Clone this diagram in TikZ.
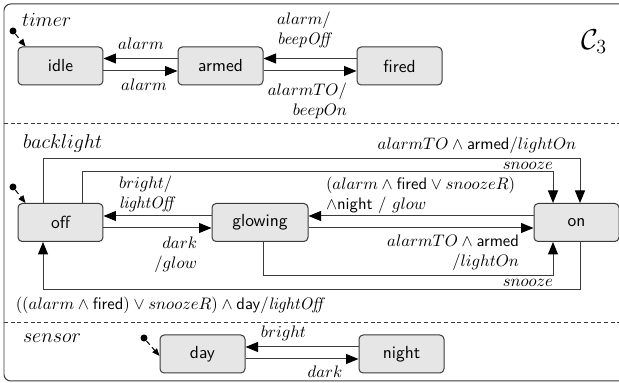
\documentclass[tikz,border=0pt]{standalone}
\usetikzlibrary{arrows.meta,calc}
\definecolor{edgecol}{HTML}{3A3A3A}
\definecolor{nodefill}{HTML}{E6E6E6}
\begin{document}
\begin{tikzpicture}[x=0.6pt,y=-0.6pt,
  stbox/.style={draw=edgecol, fill=nodefill, rounded corners=2.5pt, line width=0.6pt,
    minimum width=51pt, minimum height=22.8pt, font=\sffamily\fontsize{10.5}{12}\selectfont, inner sep=0pt},
  tr/.style={draw=edgecol, line width=0.6pt, -{Triangle[length=7.5pt,width=6pt,color=black]}},
  initarr/.style={draw=black, line width=0.6pt, densely dashed, -{Triangle[length=4.5pt,width=3.6pt]}},
  ln/.style={draw=edgecol, line width=0.6pt},
  sep/.style={draw=edgecol, line width=0.5pt, dash pattern=on 2.4pt off 1.6pt},
  lb/.style={inner sep=0pt, outer sep=0pt},
  reg/.style={inner sep=0pt, outer sep=0pt, font=\large},
  dot/.style={circle, fill=black, inner sep=0pt, minimum size=4.2pt}
]
\useasboundingbox (0,0) rectangle (619,383);
\draw[ln, rounded corners=4pt] (4,4) rectangle (640,381);
\draw[sep] (4,123) -- (619,123);
\draw[sep] (4,322) -- (619,322);

% region labels
\node[reg, anchor=west] (tTimer) at (22,20) {$timer$};
\node[reg, anchor=west] (tBack) at (23,144) {$backlight$};
\node[reg, anchor=west] (tSensor) at (23,338) {$sensor$};
\node[lb] (tC) at (594,42) {\LARGE $\mathcal{C}_3$};

% timer
\node[stbox] (idle) at (60.5,66) {idle};
\node[stbox] (armed) at (220.5,66) {armed};
\node[stbox] (fired) at (399.5,66) {fired};
\node[dot] (i1) at (13,31) {};
\draw[initarr] (i1) -- ($(idle.north west)+(8,0)$);
\draw[tr] ([yshift=4.5pt]armed.west) -- ([yshift=4.5pt]idle.east);
\draw[tr] ([yshift=-3pt]idle.east) -- ([yshift=-3pt]armed.west);
\draw[tr] ([yshift=4.5pt]fired.west) -- ([yshift=4.5pt]armed.east);
\draw[tr] ([yshift=-3pt]armed.east) -- ([yshift=-3pt]fired.west);
\node[lb] (l1) at (141,44) {$alarm$};
\node[lb] (l2) at (144,85) {$alarm$};
\node[lb, anchor=west, align=left] (l3) at (277,30) {$alarm/$\\$\mathit{beepOff}$};
\node[lb, anchor=east, align=right] (l4) at (347,101) {$alarmTO/$\\$beepOn$};

% backlight
\node[stbox] (off) at (60.5,222.5) {off};
\node[stbox, minimum width=57.6pt] (glowing) at (260,222.5) {glowing};
\node[stbox] (on) at (576.5,222.5) {on};
\node[dot] (i2) at (13,187) {};
\draw[initarr] (i2) -- ($(off.north west)+(8,0)$);
\draw[tr] ([yshift=3.9pt]glowing.west) -- ([yshift=3.9pt]off.east);
\draw[tr] ([yshift=-3.3pt]off.east) -- ([yshift=-3.3pt]glowing.west);
\draw[tr] ([yshift=3.9pt]on.west) -- ([yshift=3.9pt]glowing.east);
\draw[tr] ([yshift=-3.3pt]glowing.east) -- ([yshift=-3.3pt]on.west);
\draw[tr] (off.north -| 43,0) |- (580,159) -- (on.north -| 580,0);
\draw[tr] (off.north -| 82,0) |- (553,172) -- (on.north -| 553,0);
\draw[tr] (glowing.south -| 263,0) |- (553,276) -- (on.south -| 553,0);
\draw[tr] (on.south -| 580,0) |- (43,290) -- (off.south -| 43,0);
\node[lb] (b1) at (477,145) {$alarmTO \wedge \textsf{armed}/lightOn$};
\node[lb, anchor=base east] (b2) at (553,170) {$snooze$};
\node[lb, anchor=base east] (b3) at (553,287) {$snooze$};
\node[lb] (b4) at (171,305) {$((alarm \wedge \textsf{fired}) \vee snoozeR) \wedge \textsf{day}/\mathit{lightOff}$};
\node[lb, anchor=west, align=left] (b5) at (119,194) {$bright/$\\$\mathit{lightOff}$};
\node[lb, anchor=east, align=right] (b6) at (197,255) {$dark$\\$/glow$};
\node[lb, anchor=west, align=left] (b7) at (326,195) {$(alarm \wedge \textsf{fired} \vee snoozeR)$\\$\wedge\textsf{night}\ /\ glow$};
\node[lb, anchor=east, align=right] (b8) at (519,253) {$alarmTO \wedge \textsf{armed}$\\$/lightOn$};

% sensor
\node[stbox] (day) at (202.5,354) {day};
\node[stbox] (night) at (401.5,354) {night};
\node[dot] (i3) at (144,338) {};
\draw[initarr] (i3) -- ($(day.west)+(0,2)$);
\draw[tr] ([yshift=4.2pt]night.west) -- ([yshift=4.2pt]day.east);
\draw[tr] ([yshift=-3pt]day.east) -- ([yshift=-3pt]night.west);
\node[lb] (s1) at (283.5,333) {$bright$};
\node[lb] (s2) at (325,372) {$dark$};
\end{tikzpicture}
\end{document}
